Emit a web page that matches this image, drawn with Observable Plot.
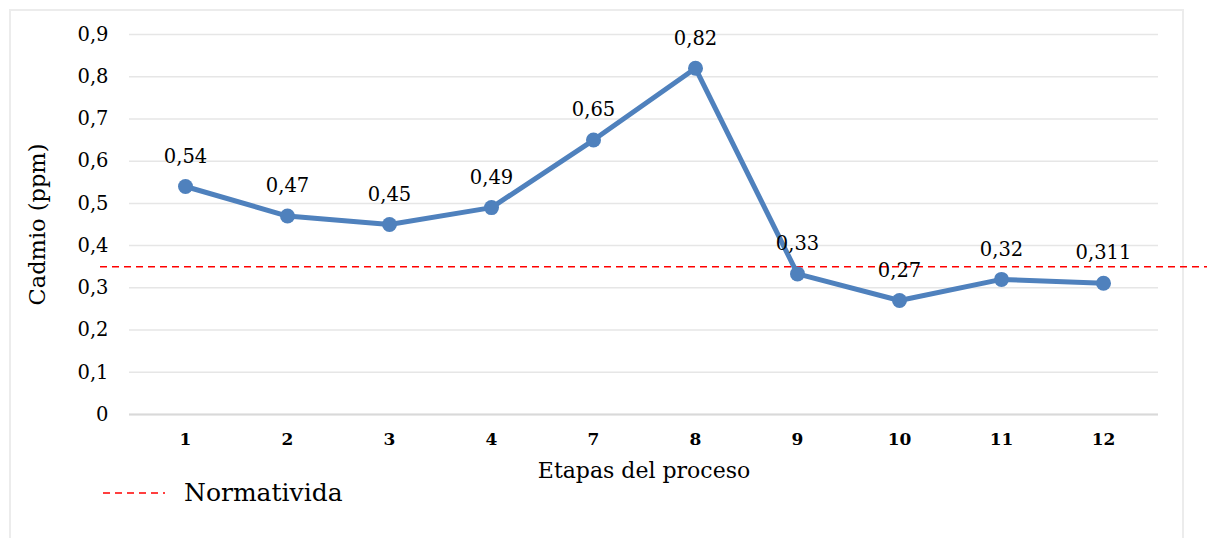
<!DOCTYPE html>
<html><head><meta charset="utf-8">
<script src="https://cdn.jsdelivr.net/npm/d3@7"></script>
<script src="https://cdn.jsdelivr.net/npm/@observablehq/plot@0.6"></script>
<style>
body{margin:0;background:#fff;}
#wrap{position:relative;width:1207px;height:538px;overflow:hidden;font-family:"DejaVu Serif",serif;}
#frame{position:absolute;left:9px;top:9px;width:1175px;height:540px;border:2px solid #ececec;box-sizing:border-box;}
#chart{position:absolute;left:0;top:0;}
#legend{position:absolute;left:103px;top:478px;display:flex;align-items:center;font-size:25px;color:#000;}
#legend svg{margin-right:19px;}
</style></head>
<body><div id="wrap"><div id="frame"></div><div id="chart"></div>
<div id="legend"><svg width="62" height="6"><line x1="0" y1="3" x2="62" y2="3" stroke="#ff0000" stroke-width="1.6" stroke-dasharray="7,5"/></svg><span>Normativida</span></div></div>
<script>
const stages = ["1","2","3","4","7","8","9","10","11","12"];
const cadmio = [0.54,0.47,0.45,0.49,0.65,0.82,0.333,0.27,0.32,0.311];
const labels = ["0,54","0,47","0,45","0,49","0,65","0,82","0,33","0,27","0,32","0,311"];
const yTicks = [0,0.1,0.2,0.3,0.4,0.5,0.6,0.7,0.8,0.9];
const normativa = 0.35;

const data = stages.map((s,i)=>({stage:s, value:cadmio[i], label:labels[i]}));
const fmt = d => d === 0 ? "0" : d.toFixed(1).replace(".", ",");
const FS = 19.5;

const plot = Plot.plot({
  width: 1207, height: 460,
  marginLeft: 129, marginRight: 49, marginTop: 34, marginBottom: 46,
  style: {fontFamily: '"DejaVu Serif",serif', fontSize: "19px", color: "#000", overflow: "visible"},
  x: {type: "point", domain: stages, padding: 0.5, label: null},
  y: {domain: [0, 0.9], label: null},
  marks: [
    Plot.gridY(yTicks, {stroke: "#e6e6e6", strokeOpacity: 1, strokeWidth: 1.5}),
    Plot.ruleY([0], {stroke: "#d9d9d9", strokeWidth: 2}),
    Plot.axisY({ticks: yTicks, tickSize: 0, tickPadding: 21, tickFormat: fmt, label: null, fontSize: FS}),
    Plot.axisX({tickSize: 0, tickPadding: 18, fontWeight: "bold", label: null, fontSize: 17}),
    Plot.ruleY([normativa], {stroke: "#ff0000", strokeWidth: 1.6, strokeDasharray: "7,5", insetLeft: -29, insetRight: -60}),
    Plot.line(data, {x: "stage", y: "value", stroke: "#4f81bd", strokeWidth: 5}),
    Plot.dot(data, {x: "stage", y: "value", fill: "#4f81bd", r: 7.5}),
    Plot.text(data, {x: "stage", y: "value", text: "label", dy: -30, fill: "#000", fontSize: FS}),
    Plot.text(["Etapas del proceso"], {frameAnchor: "bottom", dy: 63, fill: "#000", fontSize: 22}),
    Plot.text(["Cadmio (ppm)"], {frameAnchor: "left", textAnchor: "middle", rotate: -90, dx: -92, fill: "#000", fontSize: 22.5})
  ]
});
document.getElementById("chart").appendChild(plot);
</script></body></html>
